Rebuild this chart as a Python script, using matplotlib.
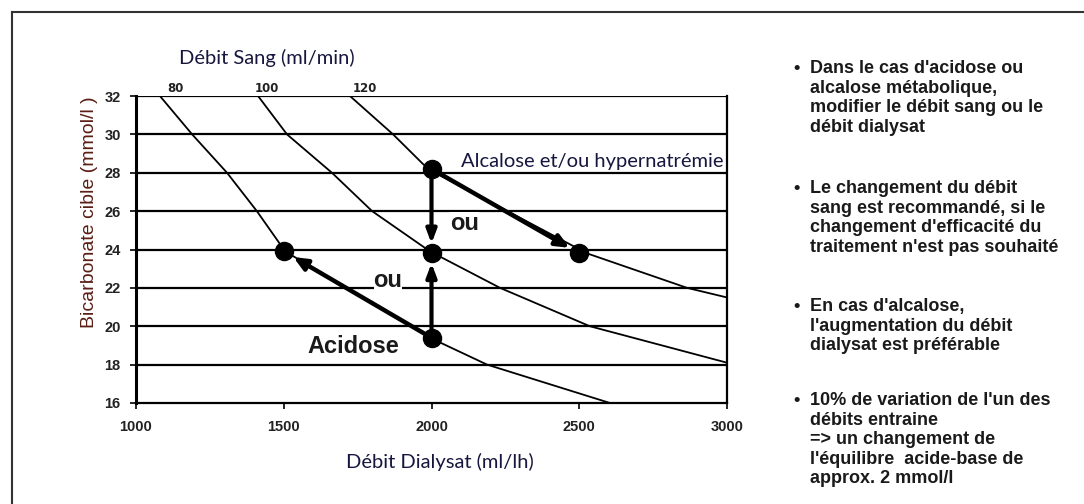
import numpy as np
import matplotlib.pyplot as plt
from matplotlib.lines import Line2D

# axes values
dialysat_ticks = [1000, 1500, 2000, 2500, 3000]
bicar_ticks = [16, 18, 20, 22, 24, 26, 28, 30, 32]
sang_labels = ["80", "100", "120"]
sang_pos = [1132, 1443, 1775]

# iso blood-flow curves
c80_x = [1081, 1190, 1308, 1409, 1505, 1995, 2188, 2604]
c80_y = [32, 30, 28, 26, 23.9, 19.4, 18, 16]
c100_x = [1413, 1511, 1663, 1799, 1995, 2232, 2536, 3000]
c100_y = [32, 30, 28, 26, 23.9, 22, 20, 18.1]
c120_x = [1724, 1870, 1988, 2526, 2865, 3000]
c120_y = [32, 30, 28.2, 23.8, 22, 21.5]

dot_x = [1500, 2000, 2000, 2500, 2000]
dot_y = [23.9, 28.2, 23.8, 23.8, 19.4]

bullets = [
    "Dans le cas d'acidose ou\nalcalose métabolique,\nmodifier le débit sang ou le\ndébit dialysat",
    "Le changement du débit\nsang est recommandé, si le\nchangement d'efficacité du\ntraitement n'est pas souhaité",
    "En cas d'alcalose,\nl'augmentation du débit\ndialysat est préférable",
    "10% de variation de l'un des\ndébits entraine\n=> un changement de\nl'équilibre  acide-base de\napprox. 2 mmol/l",
]
bullet_top = [60, 180, 298, 392]

W, H = 1084, 504
fig = plt.figure(figsize=(W / 100, H / 100), dpi=100)
fig.patch.set_facecolor("white")

# outer frame
fig.add_artist(Line2D([12 / W, 1.0], [1 - 12 / H, 1 - 12 / H], color="#333333", lw=1.5))
fig.add_artist(Line2D([12 / W, 12 / W], [0, 1 - 12 / H], color="#333333", lw=1.5))

ax = fig.add_axes([136 / W, 1 - 403 / H, 591 / W, 307 / H])
ax.set_xlim(1000, 3000)
ax.set_ylim(16, 32)

for v in bicar_ticks[1:]:
    ax.axhline(v, color="black", lw=1.6, zorder=1)

for cx, cy in [(c80_x, c80_y), (c100_x, c100_y), (c120_x, c120_y)]:
    ax.plot(cx, cy, color="black", lw=1.3, zorder=2)

ax.spines["top"].set_visible(False)
ax.spines["left"].set_linewidth(2.2)
ax.spines["bottom"].set_linewidth(1.6)
ax.spines["right"].set_linewidth(1.6)

ax.set_xticks(dialysat_ticks)
ax.set_yticks(bicar_ticks)
ax.tick_params(axis="both", direction="out", length=4, width=1.2, color="black",
               labelsize=10.5, labelcolor="#222222")
for lab in ax.get_xticklabels() + ax.get_yticklabels():
    lab.set_fontweight("bold")
    lab.set_family("Liberation Sans")
ax.tick_params(axis="x", pad=8)
ax.tick_params(axis="y", pad=7)

# arrows
arr = dict(arrowstyle="-|>,head_length=0.8,head_width=0.35", lw=3.2, color="black",
           shrinkA=0, shrinkB=8)
ax.annotate("", xy=(dot_x[3], dot_y[3]), xytext=(dot_x[1], dot_y[1]), arrowprops=arr, zorder=3)
ax.annotate("", xy=(dot_x[0], dot_y[0]), xytext=(dot_x[4], dot_y[4]), arrowprops=arr, zorder=3)
arr2 = dict(arrowstyle="-|>,head_length=0.8,head_width=0.3", lw=3.0, color="black",
            shrinkA=0, shrinkB=7)
ax.annotate("", xy=(dot_x[2], dot_y[2]), xytext=(dot_x[1], dot_y[1]), arrowprops=arr2, zorder=3)
ax.annotate("", xy=(dot_x[2], dot_y[2]), xytext=(dot_x[4], dot_y[4]), arrowprops=arr2, zorder=3)

ax.plot(dot_x, dot_y, "o", color="black", ms=13, zorder=4)

# annotations inside the chart
ax.text(2113, 25.0, "ou", fontsize=17, fontweight="bold", family="Liberation Sans",
        ha="center", va="baseline", color="#1a1a1a", zorder=5,
        bbox=dict(facecolor="white", edgecolor="none", pad=0))
ax.text(1853, 22.05, "ou", fontsize=17, fontweight="bold", family="Liberation Sans",
        ha="center", va="baseline", color="#1a1a1a", zorder=5,
        bbox=dict(facecolor="white", edgecolor="none", pad=0))
ax.text(1734, 18.92, "Acidose", fontsize=17, fontweight="bold", family="Liberation Sans",
        ha="center", va="center", color="#1a1a1a", zorder=5)
ax.text(2100, 28.6, "Alcalose et/ou hypernatrémie", fontsize=14.5, family="Lato",
        ha="left", va="center", color="#16163f", zorder=5)

# top axis: blood flow
top = ax.twiny()
top.set_xlim(ax.get_xlim())
top.set_xticks(sang_pos)
top.set_xticklabels(sang_labels, fontsize=8.5, fontweight="bold", family="DejaVu Sans",
                    color="#222222")
top.tick_params(axis="x", length=0, pad=1)
for s in top.spines.values():
    s.set_visible(False)
top.set_xlabel("Débit Sang (ml/min)", fontsize=14.5, family="Lato", color="#16163f")
top.xaxis.set_label_coords((267 - 136) / 591, 1.0 + 32 / 307)

ax.set_xlabel("Débit Dialysat (ml/lh)", fontsize=14.5, family="Lato", color="#16163f")
ax.xaxis.set_label_coords((440 - 136) / 591, -50 / 307)
ax.set_ylabel("Bicarbonate cible (mmol/l )", fontsize=14, family="Liberation Sans",
              color="#5a1e14")
ax.yaxis.set_label_coords(-38 / 591, 0.622)

# bullet notes on the right
for txt, yt in zip(bullets, bullet_top):
    fig.text(793 / W, 1 - yt / H, "•", fontsize=13, fontweight="bold",
             family="Liberation Sans", va="top", ha="left", color="#1a1a1a")
    fig.text(810 / W, 1 - yt / H, txt, fontsize=13, fontweight="bold",
             family="Liberation Sans", va="top", ha="left", color="#1a1a1a",
             linespacing=1.2)

fig.savefig("out.png", dpi=100, facecolor="white")
